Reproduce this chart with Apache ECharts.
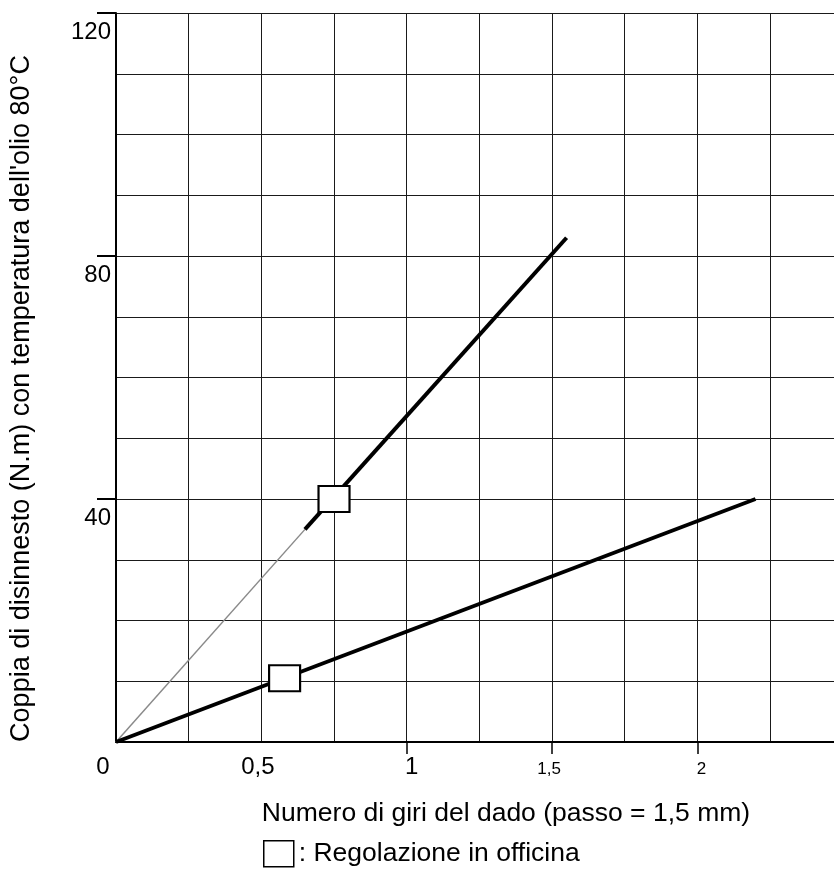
<!DOCTYPE html>
<html>
<head>
<meta charset="utf-8">
<script src="https://cdn.jsdelivr.net/npm/echarts@6/dist/echarts.min.js"></script>
<style>
  html, body { margin: 0; padding: 0; background: #fff; }
  #chart { width: 834px; height: 869px; }
</style>
</head>
<body>
<div id="chart"></div>
<script>
// ---- data ----
const xTickValues = [0, 0.5, 1, 1.5, 2];
const xTickLabels = ['0', '0,5', '1', '1,5', '2'];
const xSmallTicks = [1, 1.5, 2];
const yTickValues = [40, 80, 120];
const yTickLabels = ['40', '80', '120'];
const upperThin = [[0, 0], [0.65, 35]];
const upperThick = [[0.65, 35], [1.55, 83]];
const lowerLine = [[0, 0], [2.2, 40]];
const markerPoints = [[0.75, 40], [0.58, 10.5]];
const xTitle = 'Numero di giri del dado (passo = 1,5 mm)';
const yTitle = "Coppia di disinnesto (N.m) con temperatura dell'olio 80°C";
const legendName = 'Regolazione in officina';

const FONT = '"Liberation Sans", Arial, sans-serif';
const labelStyleKeys = ['z', 'h', 'o', 'oh', 't'];

function findIdx(arr, v) {
  for (let i = 0; i < arr.length; i++) if (Math.abs(arr[i] - v) < 1e-6) return i;
  return -1;
}

const chart = echarts.init(document.getElementById('chart'), null, { renderer: 'canvas' });
const option = {
  animation: false,
  backgroundColor: '#fff',
  textStyle: { fontFamily: FONT, color: '#000' },
  grid: { left: 116, right: 0, top: 13, bottom: 127, containLabel: false },
  legend: {
    left: 263, top: 840,
    padding: 0,
    itemWidth: 30, itemHeight: 26,
    icon: 'rect',
    data: [legendName],
    formatter: function (n) { return ': ' + n; },
    textStyle: { fontFamily: FONT, fontSize: 26.5, color: '#000' },
    itemStyle: { color: '#fff', borderColor: '#000', borderWidth: 1.5 }
  },
  xAxis: [
    {
      type: 'value', min: 0, max: 2.47, interval: 0.25,
      position: 'bottom',
      axisLine: { show: true, onZero: false, lineStyle: { color: '#000', width: 2 } },
      axisTick: { show: false },
      splitLine: { show: true, lineStyle: { color: '#1a1a1a', width: 1 } },
      axisLabel: {
        show: true, margin: 13, showMaxLabel: false,
        formatter: function (v) {
          const i = findIdx(xTickValues, v);
          if (i < 0) return '';
          return '{' + labelStyleKeys[i] + '|' + xTickLabels[i] + '}';
        },
        rich: {
          z: { fontFamily: FONT, fontSize: 24, color: '#000', padding: [0, 26, 0, 0] },
          h: { fontFamily: FONT, fontSize: 24, color: '#000', padding: [0, 7, 0, 0] },
          o: { fontFamily: FONT, fontSize: 24, color: '#000', padding: [0, 0, 0, 10] },
          oh: { fontFamily: FONT, fontSize: 17, color: '#000', padding: [6, 6, 0, 0] },
          t: { fontFamily: FONT, fontSize: 17, color: '#000', padding: [6, 0, 0, 8] }
        }
      },
      name: xTitle,
      nameLocation: 'middle',
      nameGap: 58,
      nameTextStyle: { fontFamily: FONT, fontSize: 26.5, color: '#000', padding: [0, 0, 0, 62] }
    },
    {
      type: 'value', min: 0, max: 2.47,
      position: 'bottom',
      axisLine: { show: false },
      splitLine: { show: false },
      axisLabel: { show: false },
      axisTick: { show: true, customValues: xSmallTicks, length: 12, lineStyle: { color: '#000', width: 1.5 } }
    }
  ],
  yAxis: [
    {
      type: 'value', min: 0, max: 120, interval: 10,
      position: 'left',
      axisLine: { show: true, onZero: false, lineStyle: { color: '#000', width: 2 } },
      axisTick: { show: false },
      splitLine: { show: true, lineStyle: { color: '#1a1a1a', width: 1 } },
      axisLabel: {
        show: true, margin: 5,
        formatter: function (v) {
          const i = findIdx(yTickValues, v);
          return i < 0 ? '' : '{y|' + yTickLabels[i] + '}';
        },
        rich: {
          y: { fontFamily: FONT, fontSize: 24, color: '#000', padding: [38, 0, 0, 0] }
        }
      },
      name: yTitle,
      nameLocation: 'middle',
      nameGap: 81,
      nameTextStyle: { fontFamily: FONT, fontSize: 27, color: '#000', padding: [0, 42, 0, 0] }
    },
    {
      type: 'value', min: 0, max: 120,
      position: 'left',
      axisLine: { show: false },
      splitLine: { show: false },
      axisLabel: { show: false },
      axisTick: { show: true, customValues: yTickValues, length: 19, lineStyle: { color: '#000', width: 2 } }
    }
  ],
  series: [
    {
      type: 'line', xAxisIndex: 0, yAxisIndex: 0,
      data: upperThin, symbol: 'none', z: 3,
      lineStyle: { color: '#8a8a8a', width: 1.5 }
    },
    {
      type: 'line', xAxisIndex: 0, yAxisIndex: 0,
      data: upperThick, symbol: 'none', z: 4,
      lineStyle: { color: '#000', width: 4 }
    },
    {
      type: 'line', xAxisIndex: 0, yAxisIndex: 0,
      data: lowerLine, symbol: 'none', z: 4,
      lineStyle: { color: '#000', width: 4 }
    },
    {
      name: legendName,
      type: 'scatter', xAxisIndex: 0, yAxisIndex: 0,
      data: markerPoints, symbol: 'rect', symbolSize: [31, 26], z: 6,
      itemStyle: { color: '#fff', borderColor: '#000', borderWidth: 2, opacity: 1 }
    }
  ]
};
chart.setOption(option);
</script>
</body>
</html>
